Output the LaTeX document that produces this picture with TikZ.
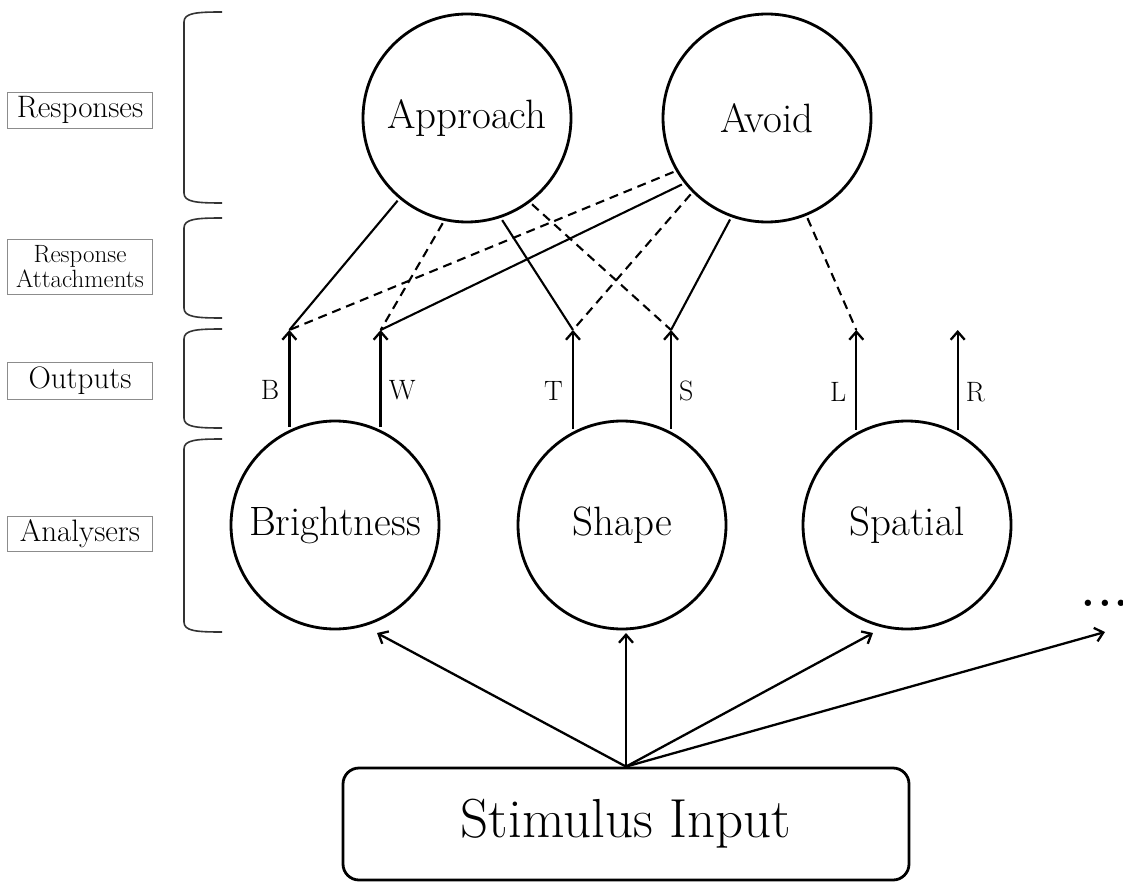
\documentclass[tikz,border=0pt]{standalone}
\usetikzlibrary{positioning}
\usetikzlibrary{calc}
\usetikzlibrary{arrows.meta}
\tikzset{
        unit/.style={circle,draw,line width=2.8pt,minimum size=208pt,inner sep=0pt,outer sep=4pt,font=\fontsize{41}{44}\selectfont},
        inputbox/.style={draw,rounded corners=16pt,line width=2.8pt,minimum width=566pt,minimum height=112pt,font=\fontsize{55}{58}\selectfont},
        sidelabel/.style={draw=black!45,line width=0.9pt,minimum width=145pt,inner sep=2pt,align=center,font=\fontsize{31}{33}\selectfont},
        bracket/.style={line width=1.6pt,draw=black!80},
        outarrow/.style={line width=2.3pt,-{Straight Barb[length=8pt,width=14pt,line width=2.3pt]}},
        link/.style={line width=2.1pt},
        dashlink/.style={line width=2.1pt,dash pattern=on 9pt off 6pt},
        outlabel/.style={inner sep=0pt,font=\fontsize{28}{30}\selectfont},
        }

\begin{document}
\begin{tikzpicture}[x=1pt,y=-1pt]

		\useasboundingbox (0,0) rectangle (1123,882);

		% response units....................
		\node [unit] (Approach) at (467,118) {Approach};
		\node [unit] (Avoid) at (767,118) {Avoid};

		% analysers.........................
		\node [unit] (Brightness) at (335,525) {Brightness};
		\node [unit] (Shape) at (622,525) {Shape};
		\node [unit] (Spatial) at (907,525) {Spatial};

		% input box.........................
		\node [inputbox] (Stimulus) at (626,824) {Stimulus Input};

		% outputs...........................
		\coordinate (tipline) at (0,330);
		\path (Brightness.115 |- tipline) coordinate (tipB);
		\path (Brightness.65 |- tipline) coordinate (tipW);
		\path (Shape.117 |- tipline) coordinate (tipT);
		\path (Shape.63 |- tipline) coordinate (tipS);
		\path (Spatial.118 |- tipline) coordinate (tipL);
		\path (Spatial.62 |- tipline) coordinate (tipR);

		\draw [outarrow] (Brightness.115) -- (tipB) node [outlabel, pos=0.38, left=9pt] {B};
		\draw [outarrow] (Brightness.65) -- (tipW) node [outlabel, pos=0.38, right=7pt] {W};
		\draw [outarrow] (Shape.117) -- (tipT) node [outlabel, pos=0.38, left=9pt] {T};
		\draw [outarrow] (Shape.63) -- (tipS) node [outlabel, pos=0.38, right=7pt] {S};
		\draw [outarrow] (Spatial.118) -- (tipL) node [outlabel, pos=0.38, left=9pt] {L};
		\draw [outarrow] (Spatial.62) -- (tipR) node [outlabel, pos=0.38, right=7pt] {R};

		% response attachments..............
		\draw [link] (Approach.230) -- (tipB);
		\draw [dashlink] (Approach.257) -- (tipW);
		\draw [link] (Approach.289) -- (tipT);
		\draw [dashlink] (Approach.307) -- (tipS);
		\draw [dashlink] (Avoid.210) -- (tipB);
		\draw [link] (Avoid.218) -- (tipW);
		\draw [dashlink] (Avoid.225) -- (tipT);
		\draw [link] (Avoid.250) -- (tipS);
		\draw [dashlink] (Avoid.292) -- (tipL);

		% stimulus to analysers.............
		\node [font=\fontsize{44}{46}\selectfont\bfseries, inner sep=0pt] (more) at (1105,603) {.\kern3pt.\kern3pt.};
		\coordinate (moreend) at (1105,632);
		\draw [outarrow] (Stimulus.north) -- ($(Brightness.south)+(42,0)$);
		\draw [outarrow] (Stimulus.north) -- (Stimulus.north |- Shape.south);
		\draw [outarrow] (Stimulus.north) -- ($(Spatial.south)+(-34,0)$);
		\draw [outarrow] (Stimulus.north) -- (moreend);

		% level brackets....................
		\draw [bracket] (222,12) .. controls (196,12) and (184,13) .. (184,22) -- (184,193) .. controls (184,202) and (196,203) .. (222,203);
		\draw [bracket] (222,218) .. controls (196,218) and (184,219) .. (184,228) -- (184,308) .. controls (184,317) and (196,318) .. (222,318);
		\draw [bracket] (222,329) .. controls (196,329) and (184,330) .. (184,339) -- (184,418) .. controls (184,427) and (196,428) .. (222,428);
		\draw [bracket] (222,439) .. controls (196,439) and (184,440) .. (184,449) -- (184,622) .. controls (184,631) and (196,632) .. (222,632);

		% level labels......................
		\node [sidelabel, minimum height=36pt] (lblResponses) at (80,110) {Responses};
		\node [sidelabel, minimum height=55pt, font=\fontsize{25}{25}\selectfont] (lblAttach) at (80,267) {Response\\Attachments};
		\node [sidelabel, minimum height=37pt] (lblOutputs) at (80,381) {Outputs};
		\node [sidelabel, minimum height=35pt] (lblAnalysers) at (80,534) {Analysers};

	\end{tikzpicture}
\end{document}
